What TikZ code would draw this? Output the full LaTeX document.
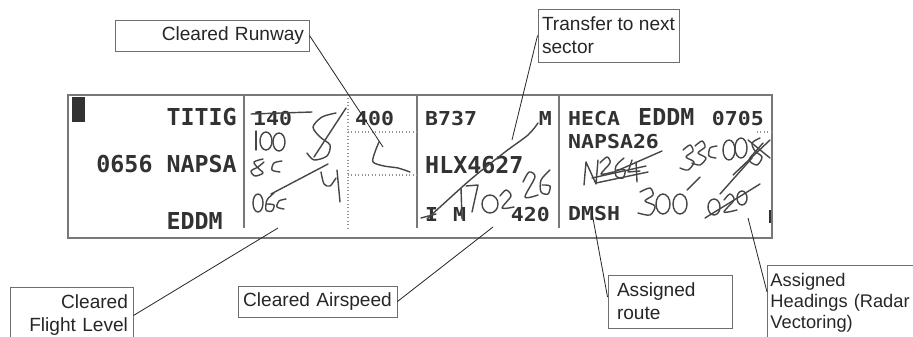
\documentclass[tikz,border=0pt]{standalone}
\usepackage{fontspec}
\setmainfont{Liberation Sans}
\newfontfamily\stripbig{DejaVu Sans Mono}
\newfontfamily\stripsmall[FakeStretch=1.12]{DejaVu Sans Mono}
\definecolor{stripframe}{RGB}{120,120,120}
\definecolor{printink}{RGB}{50,50,50}
\definecolor{penink}{RGB}{70,70,70}
\definecolor{leaderink}{RGB}{40,40,40}
\definecolor{boxframe}{RGB}{110,110,110}

\begin{document}
\begin{tikzpicture}[
  x=0.3mm, y=-0.3mm,
  frame/.style={draw=stripframe, line width=1.6pt},
  divider/.style={draw=stripframe, line width=1.1pt},
  subdiv/.style={draw=stripframe!80, line width=0.9pt, dotted},
  printbig/.style={font=\stripbig\bfseries\fontsize{19.9pt}{20pt}\selectfont, text=printink, inner sep=0pt},
  printsmall/.style={font=\stripsmall\bfseries\fontsize{16.4pt}{17pt}\selectfont, text=printink, inner sep=0pt},
  ink/.style={draw=penink, line width=1.2pt, line cap=round, line join=round},
  callout/.style={draw=boxframe, line width=0.8pt, font=\fontsize{16.3pt}{19.6pt}\selectfont,
    text=black!85, inner xsep=1.5mm, inner ysep=0pt},
  leader/.style={draw=leaderink, line width=0.7pt},
]

  % Pixel grid of the reference, y pointing down
  \useasboundingbox (0,0) rectangle (913,336);
  \clip (0,0) rectangle (913,336);

  % --- Flight strip frame ---
  \draw[frame] (68,95) rectangle (772,238);
  \fill[printink] (72,97) rectangle (85,122);
  \foreach \x in {244,417,559}
    \draw[divider] (\x,95) -- (\x,228);
  \draw[subdiv] (348,95) -- (348,228);
  \draw[subdiv] (348,132) -- (417,132);
  \draw[subdiv] (348,175) -- (417,175);
  \draw[subdiv] (757,132) -- (772,132);
  \draw[printink, line width=1.6pt] (770,210) -- (770,223);

  % --- Printed fields ---
  \node[printbig, anchor=base east] (fix) at (237,125) {TITIG};
  \node[printbig, anchor=base east] (eta) at (237,172) {0656 NAPSA};
  \node[printbig, anchor=base east] (dest) at (223,229) {EDDM};
  \node[printsmall, anchor=base west] (cfl) at (253,125) {140};
  \node[printsmall, anchor=base west] (rwy) at (355,125) {400};
  \node[printsmall, anchor=base west] (type) at (425,125) {B737};
  \node[printsmall, anchor=base east] (wtc) at (552,125) {M};
  \node[printbig, anchor=base west] (csign) at (425,173) {HLX4627};
  \node[printsmall, anchor=base west] (flr) at (425,221) {I};
  \node[printsmall, anchor=base west] (eqp) at (453,221) {M};
  \node[printsmall, anchor=base east] (tas) at (550,221) {420};
  \node[printsmall, anchor=base west] (adep) at (568,125) {HECA};
  \node[printbig, anchor=base west] (ades) at (638,125) {EDDM};
  \node[printsmall, anchor=base east] (eobt) at (764,125) {0705};
  \node[printsmall, anchor=base west] (sid) at (568,148) {NAPSA26};
  \node[printsmall, anchor=base west] (nxt) at (568,220) {DMSH};

  % --- Controller handwriting: level column ---
  \draw[ink] (251,114) -- (312,112);
  \draw[ink] (256,131) -- (256,150);
  \draw[ink] (266,141) ellipse [x radius=6, y radius=9];
  \draw[ink] (279,142) ellipse [x radius=6, y radius=9];
  \draw[ink] plot[smooth] coordinates {(336,113) (322,117) (313,127) (320,137) (330,145) (327,156) (314,160) (307,153)};
  \draw[ink] (314,157) -- (346,108);
  \draw[ink] plot[smooth] coordinates {(263,159) (254,162) (258,168) (263,173) (255,176) (251,171) (258,167) (264,162)};
  \draw[ink] plot[smooth] coordinates {(282,161) (274,163) (272,170) (280,172)};
  \draw[ink] (328,164) -- (271,194);
  \draw[ink] plot[smooth] coordinates {(321,172) (324,184) (330,186) (336,178)};
  \draw[ink] (337,170) -- (340,202);
  \draw[ink] (258,203) ellipse [x radius=5, y radius=9];
  \draw[ink] plot[smooth] coordinates {(274,193) (267,200) (266,210) (272,211) (274,205) (267,204)};
  \draw[ink] plot[smooth] coordinates {(286,199) (279,201) (277,207) (284,209)};

  % --- Handwriting: runway column ---
  \draw[ink] plot[smooth] coordinates {(379,142) (375,152) (373,162) (384,166) (398,168) (410,172)};

  % --- Handwriting: callsign column ---
  \draw[ink] (421,218) -- (436,214);
  \draw[ink] plot[smooth] coordinates {(427,219) (470,180) (505,152) (528,135) (538,123)};
  \draw[ink] (461,188) -- (462,219);
  \draw[ink] (466,186) -- (478,185) -- (472,212);
  \draw[ink] (490,204) ellipse [x radius=8, y radius=9];
  \draw[ink] plot[smooth] coordinates {(500,196) (506,190) (511,196) (502,208) (514,207)};
  \draw[ink] plot[smooth] coordinates {(523,182) (529,172) (535,177) (525,197) (538,195)};
  \draw[ink] plot[smooth] coordinates {(550,170) (541,180) (541,192) (548,194) (550,186) (542,185)};

  % --- Handwriting: route column ---
  \draw[ink] (584,185) -- (586,162) -- (596,184) -- (598,160);
  \draw[ink] plot[smooth] coordinates {(600,163) (607,157) (610,163) (601,174) (613,172)};
  \draw[ink] plot[smooth] coordinates {(624,158) (616,166) (616,176) (623,178) (625,170) (617,170)};
  \draw[ink] (632,160) -- (628,172) -- (640,171);
  \draw[ink] (636,162) -- (637,182);
  \draw[ink] (592,178) -- (646,166);
  \draw[ink] (596,183) -- (648,172);
  \draw[ink] (662,151) -- (612,173);
  \draw[ink] plot[smooth] coordinates {(683,150) (690,145) (693,151) (686,157) (694,162) (688,170) (680,168)};
  \draw[ink] plot[smooth] coordinates {(695,146) (702,141) (705,147) (698,153) (706,158) (700,165) (692,163)};
  \draw[ink] plot[smooth] coordinates {(717,146) (710,148) (709,156) (716,158)};
  \draw[ink] (729,150) ellipse [x radius=6, y radius=10];
  \draw[ink] (741,148) ellipse [x radius=6, y radius=10];
  \draw[ink] plot[smooth] coordinates {(760,138) (752,143) (755,151) (762,157) (757,165) (749,160) (756,151) (763,143)};
  \draw[ink] (733,175) -- (770,140);
  \draw[ink] (748,140) -- (770,158);
  \draw[ink] plot[smooth] coordinates {(640,192) (650,188) (653,195) (645,201) (655,206) (650,215) (638,213)};
  \draw[ink] (663,204) ellipse [x radius=7, y radius=10];
  \draw[ink] (680,204) ellipse [x radius=7, y radius=10];
  \draw[ink] (687,190) -- (700,177);
  \draw[ink] (714,207) ellipse [x radius=6, y radius=8];
  \draw[ink] plot[smooth] coordinates {(724,200) (730,194) (734,200) (724,212) (737,210)};
  \draw[ink] (742,198) ellipse [x radius=5, y radius=7];
  \draw[ink] (705,218) -- (760,184);
  \draw[ink] (720,194) -- (752,158);

  % --- Callout boxes ---
  \node[callout, minimum height=9.3mm, text width=55.2mm, align=right] (rwybox) at (212,35.5) {Cleared Runway};
  \node[callout, inner xsep=0pt, minimum width=42.3mm, minimum height=15.9mm, align=left] (xferbox) at (608.5,35.5) {Transfer to next\\sector};
  \node[callout, minimum height=17.1mm, text width=33.9mm, align=right] (cflbox) at (71.5,315.5) {Cleared\\Flight Level};
  \node[callout, minimum height=9.3mm, text width=44.7mm, align=center] (spdbox) at (317.5,301.5) {Cleared Airspeed};
  \node[callout, inner xsep=2.7mm, minimum height=15.9mm, text width=31.8mm, align=left] (rtebox) at (670,301.5) {Assigned\\route};
  \node[callout, font=\fontsize{15.6pt}{17.9pt}\selectfont, inner xsep=0.9mm, inner ysep=2.4mm,
    text width=50mm, align=left, anchor=north west] (hdgbox) at (767,265) {Assigned\\Headings (Radar\\Vectoring)};

  % --- Leader lines ---
  \coordinate (rwytip) at (383,147);
  \coordinate (xfertip) at (512,140);
  \coordinate (cfltip) at (278,228);
  \coordinate (spdtip) at (493,227);
  \coordinate (rtetip) at (592,213);
  \coordinate (hdgtip) at (748,218);
  \draw[leader] (rwybox.east) -- (rwytip);
  \draw[leader] (xferbox.west) -- (xfertip);
  \draw[leader] (cflbox.east) -- (cfltip);
  \draw[leader] (spdbox.east) -- (spdtip);
  \draw[leader] ([yshift=1.35mm]rtebox.west) -- (rtetip);
  \draw[leader] ([yshift=3.3mm]hdgbox.west) -- (hdgtip);

\end{tikzpicture}
\end{document}
